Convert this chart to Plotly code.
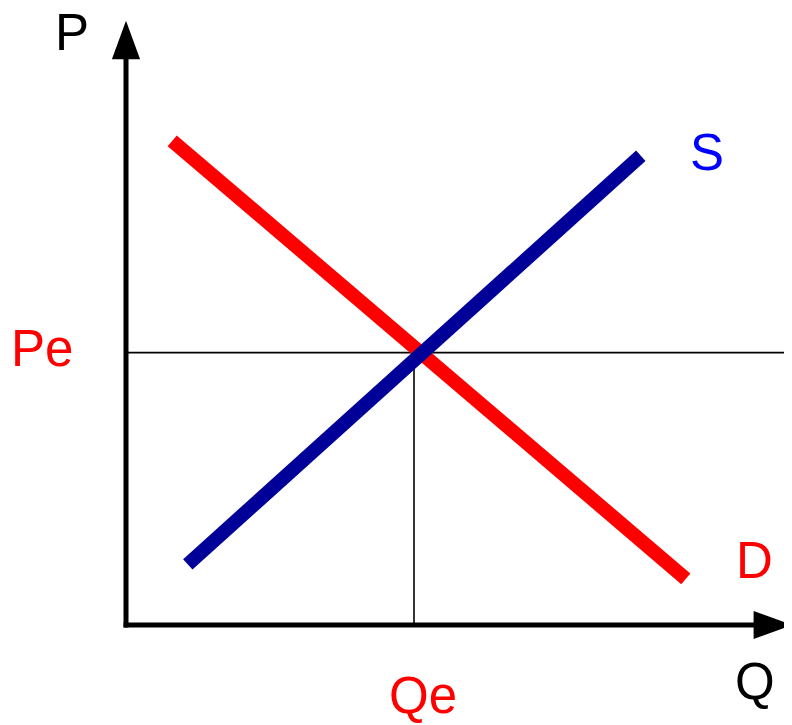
#!/usr/bin/env python
# coding: utf-8

import plotly.graph_objects as go

# chart data (quantity Q, price P); 1 unit = 60 px on both axes
demand_q = [0.77, 9.33]
demand_p = [8.07, 0.77]
supply_q = [1.03, 8.58]
supply_p = [1.01, 7.82]
q_eq = 4.8
p_eq = 4.54
q_max = 11.1
p_max = 10.07

RED = '#ff0000'
NAVY = '#000099'
BLUE = '#0000ff'
FONT = 'Liberation Sans, Arial, sans-serif'

head_len = 0.64
head_half = 0.235

# the page body adds an 8 px offset, so the origin sits at plot px (118, 617)
ORIGIN_X = 118
ORIGIN_Y = 617
PX = 60

fig = go.Figure()

# equilibrium guide lines
fig.add_trace(go.Scatter(x=[0.03, q_max], y=[p_eq, p_eq], mode='lines',
                         line=dict(color='black', width=1.6), hoverinfo='skip'))
fig.add_trace(go.Scatter(x=[q_eq, q_eq], y=[0, p_eq], mode='lines',
                         line=dict(color='black', width=1.6), hoverinfo='skip'))

# demand and supply
fig.add_trace(go.Scatter(x=demand_q, y=demand_p, mode='lines',
                         line=dict(color=RED, width=14), hoverinfo='skip'))
fig.add_trace(go.Scatter(x=supply_q, y=supply_p, mode='lines',
                         line=dict(color=NAVY, width=14), hoverinfo='skip'))

# axes with arrow heads
fig.add_trace(go.Scatter(x=[0, 0], y=[-0.04, p_max - head_len + 0.05], mode='lines',
                         line=dict(color='black', width=5), hoverinfo='skip'))
fig.add_trace(go.Scatter(x=[-0.04, q_max - head_len + 0.05], y=[0, 0], mode='lines',
                         line=dict(color='black', width=5), hoverinfo='skip'))
fig.add_trace(go.Scatter(x=[-head_half, head_half, 0, -head_half],
                         y=[p_max - head_len, p_max - head_len, p_max, p_max - head_len],
                         mode='lines', fill='toself', fillcolor='black',
                         line=dict(color='black', width=0), hoverinfo='skip'))
fig.add_trace(go.Scatter(x=[q_max - head_len, q_max - head_len, q_max, q_max - head_len],
                         y=[-head_half, head_half, 0, -head_half],
                         mode='lines', fill='toself', fillcolor='black',
                         line=dict(color='black', width=0), hoverinfo='skip'))

labels = [
    ('P', -0.9, 9.88, 'black'),
    ('Q', 10.48, -0.94, 'black'),
    ('S', 9.69, 7.88, BLUE),
    ('D', 10.47, 1.07, RED),
    ('Pe', -1.4, 4.61, RED),
    ('Qe', 4.95, -1.18, RED),
]
for text, x, y, color in labels:
    fig.add_annotation(x=x, y=y, text=text, showarrow=False,
                       xanchor='center', yanchor='middle',
                       font=dict(family=FONT, size=51, color=color))

fig.update_layout(
    width=792, height=725, autosize=False,
    margin=dict(l=0, r=0, t=0, b=0),
    paper_bgcolor='white', plot_bgcolor='white',
    showlegend=False,
    xaxis=dict(range=[-ORIGIN_X / PX, (792 - ORIGIN_X) / PX], visible=False, fixedrange=True),
    yaxis=dict(range=[-(725 - ORIGIN_Y) / PX, ORIGIN_Y / PX], visible=False, fixedrange=True),
)

fig.write_html("out.html")
